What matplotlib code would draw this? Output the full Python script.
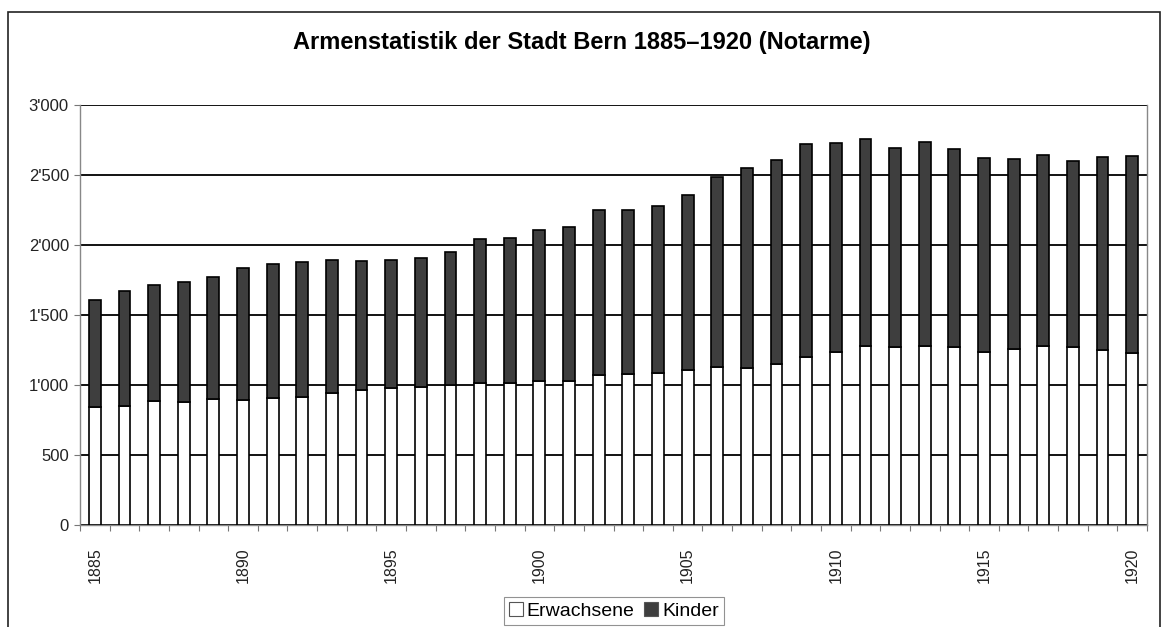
import numpy as np
import matplotlib.pyplot as plt
from matplotlib.patches import Rectangle
from matplotlib.ticker import FuncFormatter, FixedLocator

plt.rcParams['font.family'] = ['Liberation Sans', 'DejaVu Sans']

years = list(range(1885, 1921))
gesamt = [1607, 1671, 1714, 1738, 1774, 1838, 1864, 1881, 1893, 1883,
          1893, 1905, 1948, 2043, 2048, 2110, 2131, 2250, 2250, 2276,
          2357, 2488, 2548, 2607, 2722, 2726, 2755, 2695, 2738, 2683,
          2624, 2614, 2643, 2602, 2631, 2638]
erwachsene = [840, 850, 888, 881, 898, 893, 905, 917, 945, 964,
              976, 988, 1000, 1017, 1017, 1031, 1029, 1071, 1076, 1083,
              1107, 1131, 1119, 1148, 1202, 1238, 1279, 1269, 1279, 1269,
              1238, 1255, 1279, 1274, 1250, 1226]
kinder = [g - e for g, e in zip(gesamt, erwachsene)]

fig = plt.figure(figsize=(11.62, 6.27), dpi=100)
ax = fig.add_axes([80 / 1162, 1 - 525 / 627, 1067 / 1162, 420 / 627])

# Rahmen um das ganze Diagramm
fig.patches.append(Rectangle((8 / 1162, -0.05), 1152 / 1162, 1.05 - 12 / 627,
                             transform=fig.transFigure, fill=False,
                             edgecolor='#222222', linewidth=1.2))

x = np.arange(len(years))
ax.bar(x, erwachsene, width=0.4, color='white', edgecolor='black',
       linewidth=1.2, label='Erwachsene', zorder=3)
ax.bar(x, kinder, width=0.4, bottom=erwachsene, color='#3e3e3e',
       edgecolor='black', linewidth=1.2, label='Kinder', zorder=3)

ax.set_xlim(-0.5, len(years) - 0.5)
ax.set_ylim(0, 3000)
ax.set_yticks(range(0, 3001, 500))
ax.yaxis.set_major_formatter(FuncFormatter(lambda v, p: f'{int(v):,}'.replace(',', "'")))
ax.grid(axis='y', color='black', linewidth=1.3, zorder=0)
ax.tick_params(axis='y', length=4, width=0.8, color='#777777', labelsize=12,
               pad=4, labelcolor='#222222')

# Kategorie-Striche an den Grenzen, Beschriftung alle 5 Jahre
lab_pos = [i for i, y in enumerate(years) if y % 5 == 0]
ax.set_xticks(lab_pos)
ax.set_xticklabels([str(years[i]) for i in lab_pos], rotation=90, fontsize=11.5,
                   color='#222222')
ax.tick_params(axis='x', which='major', length=0, pad=16)
ax.xaxis.set_minor_locator(FixedLocator(np.arange(-0.5, len(years), 1)))
ax.tick_params(axis='x', which='minor', length=4, width=0.8, color='#777777')

for s in ['left', 'right', 'bottom']:
    ax.spines[s].set_color('#888888')
    ax.spines[s].set_linewidth(1.0)
ax.spines['top'].set_visible(False)

fig.text(582 / 1162, 1 - 43 / 627, 'Armenstatistik der Stadt Bern 1885–1920 (Notarme)',
         ha='center', va='center', fontsize=17, fontweight='bold')

leg = fig.legend(loc='center', bbox_to_anchor=(614 / 1162, 1 - 611 / 627), ncol=2,
                 fontsize=14, frameon=True, fancybox=False, edgecolor='#777777',
                 handlelength=0.7, handleheight=0.7, handletextpad=0.2,
                 columnspacing=0.5, borderpad=0.25, borderaxespad=0)
leg.get_frame().set_linewidth(0.8)
for h in leg.legend_handles:
    h.set_edgecolor('#555555')
    h.set_linewidth(0.8)

fig.savefig('out.png', dpi=100)
